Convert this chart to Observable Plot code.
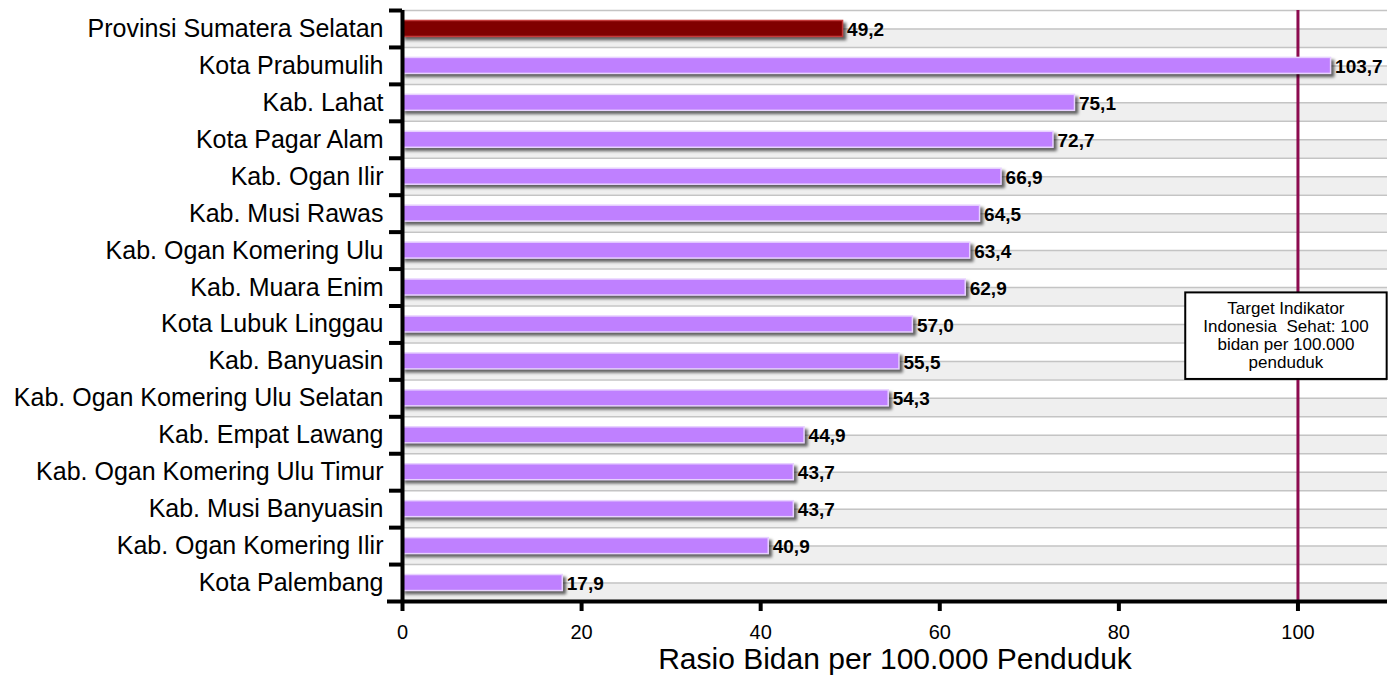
<!DOCTYPE html>
<html>
<head>
<meta charset="utf-8">
<script src="https://cdn.jsdelivr.net/npm/d3@7"></script>
<script src="https://cdn.jsdelivr.net/npm/@observablehq/plot@0.6"></script>
<style>
  html, body { margin: 0; padding: 0; background: #fff; }
  svg { font-family: "Liberation Sans", Arial, sans-serif; display: block; }
  rect[aria-label="databars"] { filter: drop-shadow(3px 3px 1.5px rgba(0,0,0,0.6)); }
</style>
</head>
<body>
<script>
const categories = [
  "Provinsi Sumatera Selatan",
  "Kota Prabumulih",
  "Kab. Lahat",
  "Kota Pagar Alam",
  "Kab. Ogan Ilir",
  "Kab. Musi Rawas",
  "Kab. Ogan Komering Ulu",
  "Kab. Muara Enim",
  "Kota Lubuk Linggau",
  "Kab. Banyuasin",
  "Kab. Ogan Komering Ulu Selatan",
  "Kab. Empat Lawang",
  "Kab. Ogan Komering Ulu Timur",
  "Kab. Musi Banyuasin",
  "Kab. Ogan Komering Ilir",
  "Kota Palembang"
];
const values = [49.2, 103.7, 75.1, 72.7, 66.9, 64.5, 63.4, 62.9, 57.0, 55.5, 54.3, 44.9, 43.7, 43.7, 40.9, 17.9];
const xTicks = [0, 20, 40, 60, 80, 100];
const targetValue = 100;
const xLabel = "Rasio Bidan per 100.000 Penduduk";
const annotationLines = ["Target Indikator", "Indonesia  Sehat: 100", "bidan per 100.000", "penduduk"];
const annotationRow = "Kota Lubuk Linggau";

const data = categories.map((c, i) => ({name: c, value: values[i], province: i === 0}));

const W = 1395, H = 684;
const mTop = 10, mBottom = 83, mLeft = 402, mRight = 8;
const step = (H - mTop - mBottom) / categories.length;
const barH = 16;
const inset = (step - barH) / 2;
const fmt = v => v.toFixed(1).replace(".", ",");

const chart = Plot.plot({
  width: W, height: H,
  marginTop: mTop, marginBottom: mBottom, marginLeft: mLeft, marginRight: mRight,
  style: {fontFamily: '"Liberation Sans", Arial, sans-serif', background: "#fff"},
  x: {domain: [0, 110], ticks: xTicks},
  y: {domain: categories, padding: 0, round: false},
  marks: [
    // lower half stripes
    Plot.barX(categories, {y: d => d, x1: 0, x2: 110, fill: "#efefef", insetTop: step / 2}),
    // grid lines at centers and band boundaries
    Plot.ruleY(categories, {y: d => d, stroke: "#c4c4c4", strokeWidth: 1.5}),
    Plot.ruleY(categories, {y: d => d, dy: -step / 2, stroke: "#c4c4c4", strokeWidth: 1.5}),
    // target line
    Plot.ruleX([targetValue], {stroke: "#8c0b4f", strokeWidth: 3}),
    // bars
    Plot.barX(data, {
      y: "name", x: "value",
      fill: d => d.province ? "#800000" : "#bf80ff",
      stroke: d => d.province ? "#c43a3a" : "#e8d2ff",
      strokeWidth: 1.5,
      insetTop: inset, insetBottom: inset,
      ariaLabel: () => "databars"
    }),
    // value labels
    Plot.text(data, {
      y: "name", x: "value", text: d => fmt(d.value),
      textAnchor: "start", dx: 4, dy: 1,
      fontSize: 19, fontWeight: "bold", fill: "#000"
    }),
    // annotation
    Plot.text([annotationLines.join("\n")], {
      x: targetValue, y: () => annotationRow, text: d => d,
      dx: -12, dy: 11, fontSize: 17, lineHeight: 1.05, fill: "#000",
      ariaLabel: () => "annot"
    }),
    // y axis labels
    Plot.axisY({tickSize: 0, tickPadding: 19, fontSize: 25, fill: "#000", label: null}),
    // y axis ticks at band boundaries
    Plot.axisY({text: null, tickSize: 13, strokeWidth: 4, dy: -step / 2, label: null, stroke: "#000"}),
    // y axis line
    Plot.ruleX([0], {stroke: "#000", strokeWidth: 4}),
    // x axis line (bottom boundary)
    Plot.ruleY([categories[categories.length - 1]], {dy: step / 2, stroke: "#000", strokeWidth: 4, insetLeft: -15}),
    // x axis
    Plot.axisX({ticks: xTicks, tickSize: 10, strokeWidth: 4, tickPadding: 13, fontSize: 20, fill: "#000", label: null}),
    Plot.text([xLabel], {frameAnchor: "bottom", dy: 67, fontSize: 30, fill: "#000", text: d => d})
  ]
});
document.body.append(chart);

// draw a box around the annotation
const annotText = chart.querySelector('text[aria-label="annot"]');
if (annotText) {
  const bb = annotText.getBBox();
  const padX = 18, padY = 7;
  const rect = document.createElementNS("http://www.w3.org/2000/svg", "rect");
  rect.setAttribute("x", bb.x - padX);
  rect.setAttribute("y", bb.y - padY);
  rect.setAttribute("width", bb.width + 2 * padX);
  rect.setAttribute("height", bb.height + 2 * padY);
  rect.setAttribute("fill", "#fff");
  rect.setAttribute("stroke", "#000");
  rect.setAttribute("stroke-width", "2");
  const tr = annotText.getAttribute("transform");
  if (tr) rect.setAttribute("transform", tr);
  annotText.parentNode.insertBefore(rect, annotText);
}
</script>
</body>
</html>
